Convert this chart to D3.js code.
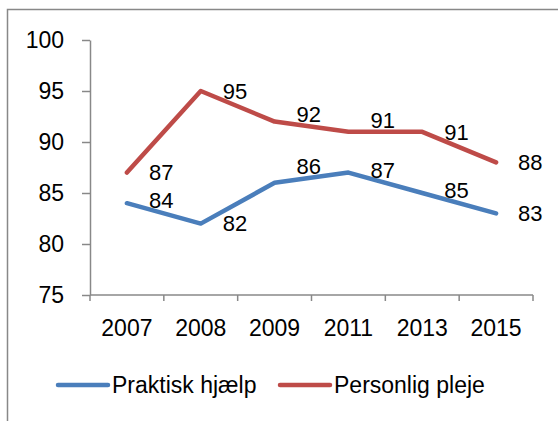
<!DOCTYPE html>
<html>
<head>
<meta charset="utf-8">
<script src="https://cdn.jsdelivr.net/npm/d3@7"></script>
<style>
  body { margin: 0; background: #fff; }
  text { font-family: "Liberation Sans", Arial, sans-serif; fill: #000; }
</style>
</head>
<body>
<svg id="chart" width="558" height="421"></svg>
<script>
var years = ["2007", "2008", "2009", "2011", "2013", "2015"];
var praktisk = [84, 82, 86, 87, 85, 83];
var personlig = [87, 95, 92, 91, 91, 88];
var yTicks = [75, 80, 85, 90, 95, 100];
var seriesNames = ["Praktisk hjælp", "Personlig pleje"];
var seriesColors = ["#4A7EBB", "#BE4B48"];

var series = [
    { name: seriesNames[0], values: praktisk, color: seriesColors[0] },
    { name: seriesNames[1], values: personlig, color: seriesColors[1] }
];

var svg = d3.select("#chart");
var fontSize = 23;
var axisColor = "#888888";

// frame of the chart area (runs off the right / bottom edge)
svg.append("rect")
    .attr("x", 7.5).attr("y", 9.5)
    .attr("width", 600).attr("height", 500)
    .attr("fill", "none")
    .attr("stroke", axisColor)
    .attr("stroke-width", 1.5);

const xScale = d3.scaleBand()
    .domain(years)
    .range([90, 533])
    .padding(0);

const yScale = d3.scaleLinear()
    .domain([75, 100])
    .range([295, 40]);

const cx = d => xScale(d) + xScale.bandwidth() / 2;

// y axis
var yAxis = svg.append("g")
    .attr("transform", "translate(90,0)")
    .call(d3.axisLeft(yScale).tickValues(yTicks).tickSize(8).tickSizeOuter(0).tickPadding(18));
yAxis.selectAll("path, line").attr("stroke", axisColor).attr("stroke-width", 1.5);
yAxis.selectAll("text")
    .style("font-size", fontSize + "px")
    .style("font-family", "Liberation Sans, Arial, sans-serif")
    .attr("fill", "#000");

// x axis line + boundary ticks
svg.append("line")
    .attr("x1", 90).attr("x2", 533)
    .attr("y1", yScale(75)).attr("y2", yScale(75))
    .attr("stroke", axisColor).attr("stroke-width", 1.5);

var edges = years.map(d => xScale(d)).concat([xScale.range()[1]]);
svg.selectAll(".xtick")
    .data(edges)
    .enter().append("line")
    .attr("class", "xtick")
    .attr("x1", d => d).attr("x2", d => d)
    .attr("y1", yScale(75)).attr("y2", yScale(75) + 6)
    .attr("stroke", axisColor).attr("stroke-width", 1.5);

svg.selectAll(".xlabel")
    .data(years)
    .enter().append("text")
    .attr("class", "xlabel")
    .attr("x", d => cx(d))
    .attr("y", 336)
    .attr("text-anchor", "middle")
    .style("font-size", fontSize + "px")
    .text(d => d);

// lines
var line = d3.line()
    .x((d, i) => cx(years[i]))
    .y(d => yScale(d));

series.forEach(function(s) {
    svg.append("path")
        .datum(s.values)
        .attr("d", line)
        .attr("fill", "none")
        .attr("stroke", s.color)
        .attr("stroke-width", 4.5)
        .attr("stroke-linejoin", "round")
        .attr("stroke-linecap", "round");
});

// data labels, placed to the right; nudged up if the line runs through them
function lineYAt(values, x) {
    for (var i = 0; i < values.length - 1; i++) {
        var x0 = cx(years[i]), x1 = cx(years[i + 1]);
        if (x >= x0 && x <= x1) {
            var t = (x - x0) / (x1 - x0);
            return yScale(values[i]) + t * (yScale(values[i + 1]) - yScale(values[i]));
        }
    }
    return null;
}

series.forEach(function(s) {
    s.values.forEach(function(v, i) {
        var px = cx(years[i]);
        var py = yScale(v);
        var lx = px + 22;
        var ly = py;
        var ln = lineYAt(s.values, lx + 12);
        if (ln !== null && Math.abs(ln - py) < 10) {
            ly = ln - 12;
        }
        svg.append("text")
            .attr("x", lx)
            .attr("y", ly)
            .attr("dy", "0.35em")
            .style("font-size", (fontSize - 1) + "px")
            .text(v);
    });
});

// legend
var legendX = [58, 280];
series.forEach(function(s, i) {
    svg.append("line")
        .attr("x1", legendX[i]).attr("x2", legendX[i] + 50)
        .attr("y1", 385).attr("y2", 385)
        .attr("stroke", s.color)
        .attr("stroke-width", 4.5)
        .attr("stroke-linecap", "round");
    svg.append("text")
        .attr("x", legendX[i] + 54)
        .attr("y", 385)
        .attr("dy", "0.35em")
        .style("font-size", fontSize + "px")
        .text(s.name);
});
</script>
</body>
</html>
